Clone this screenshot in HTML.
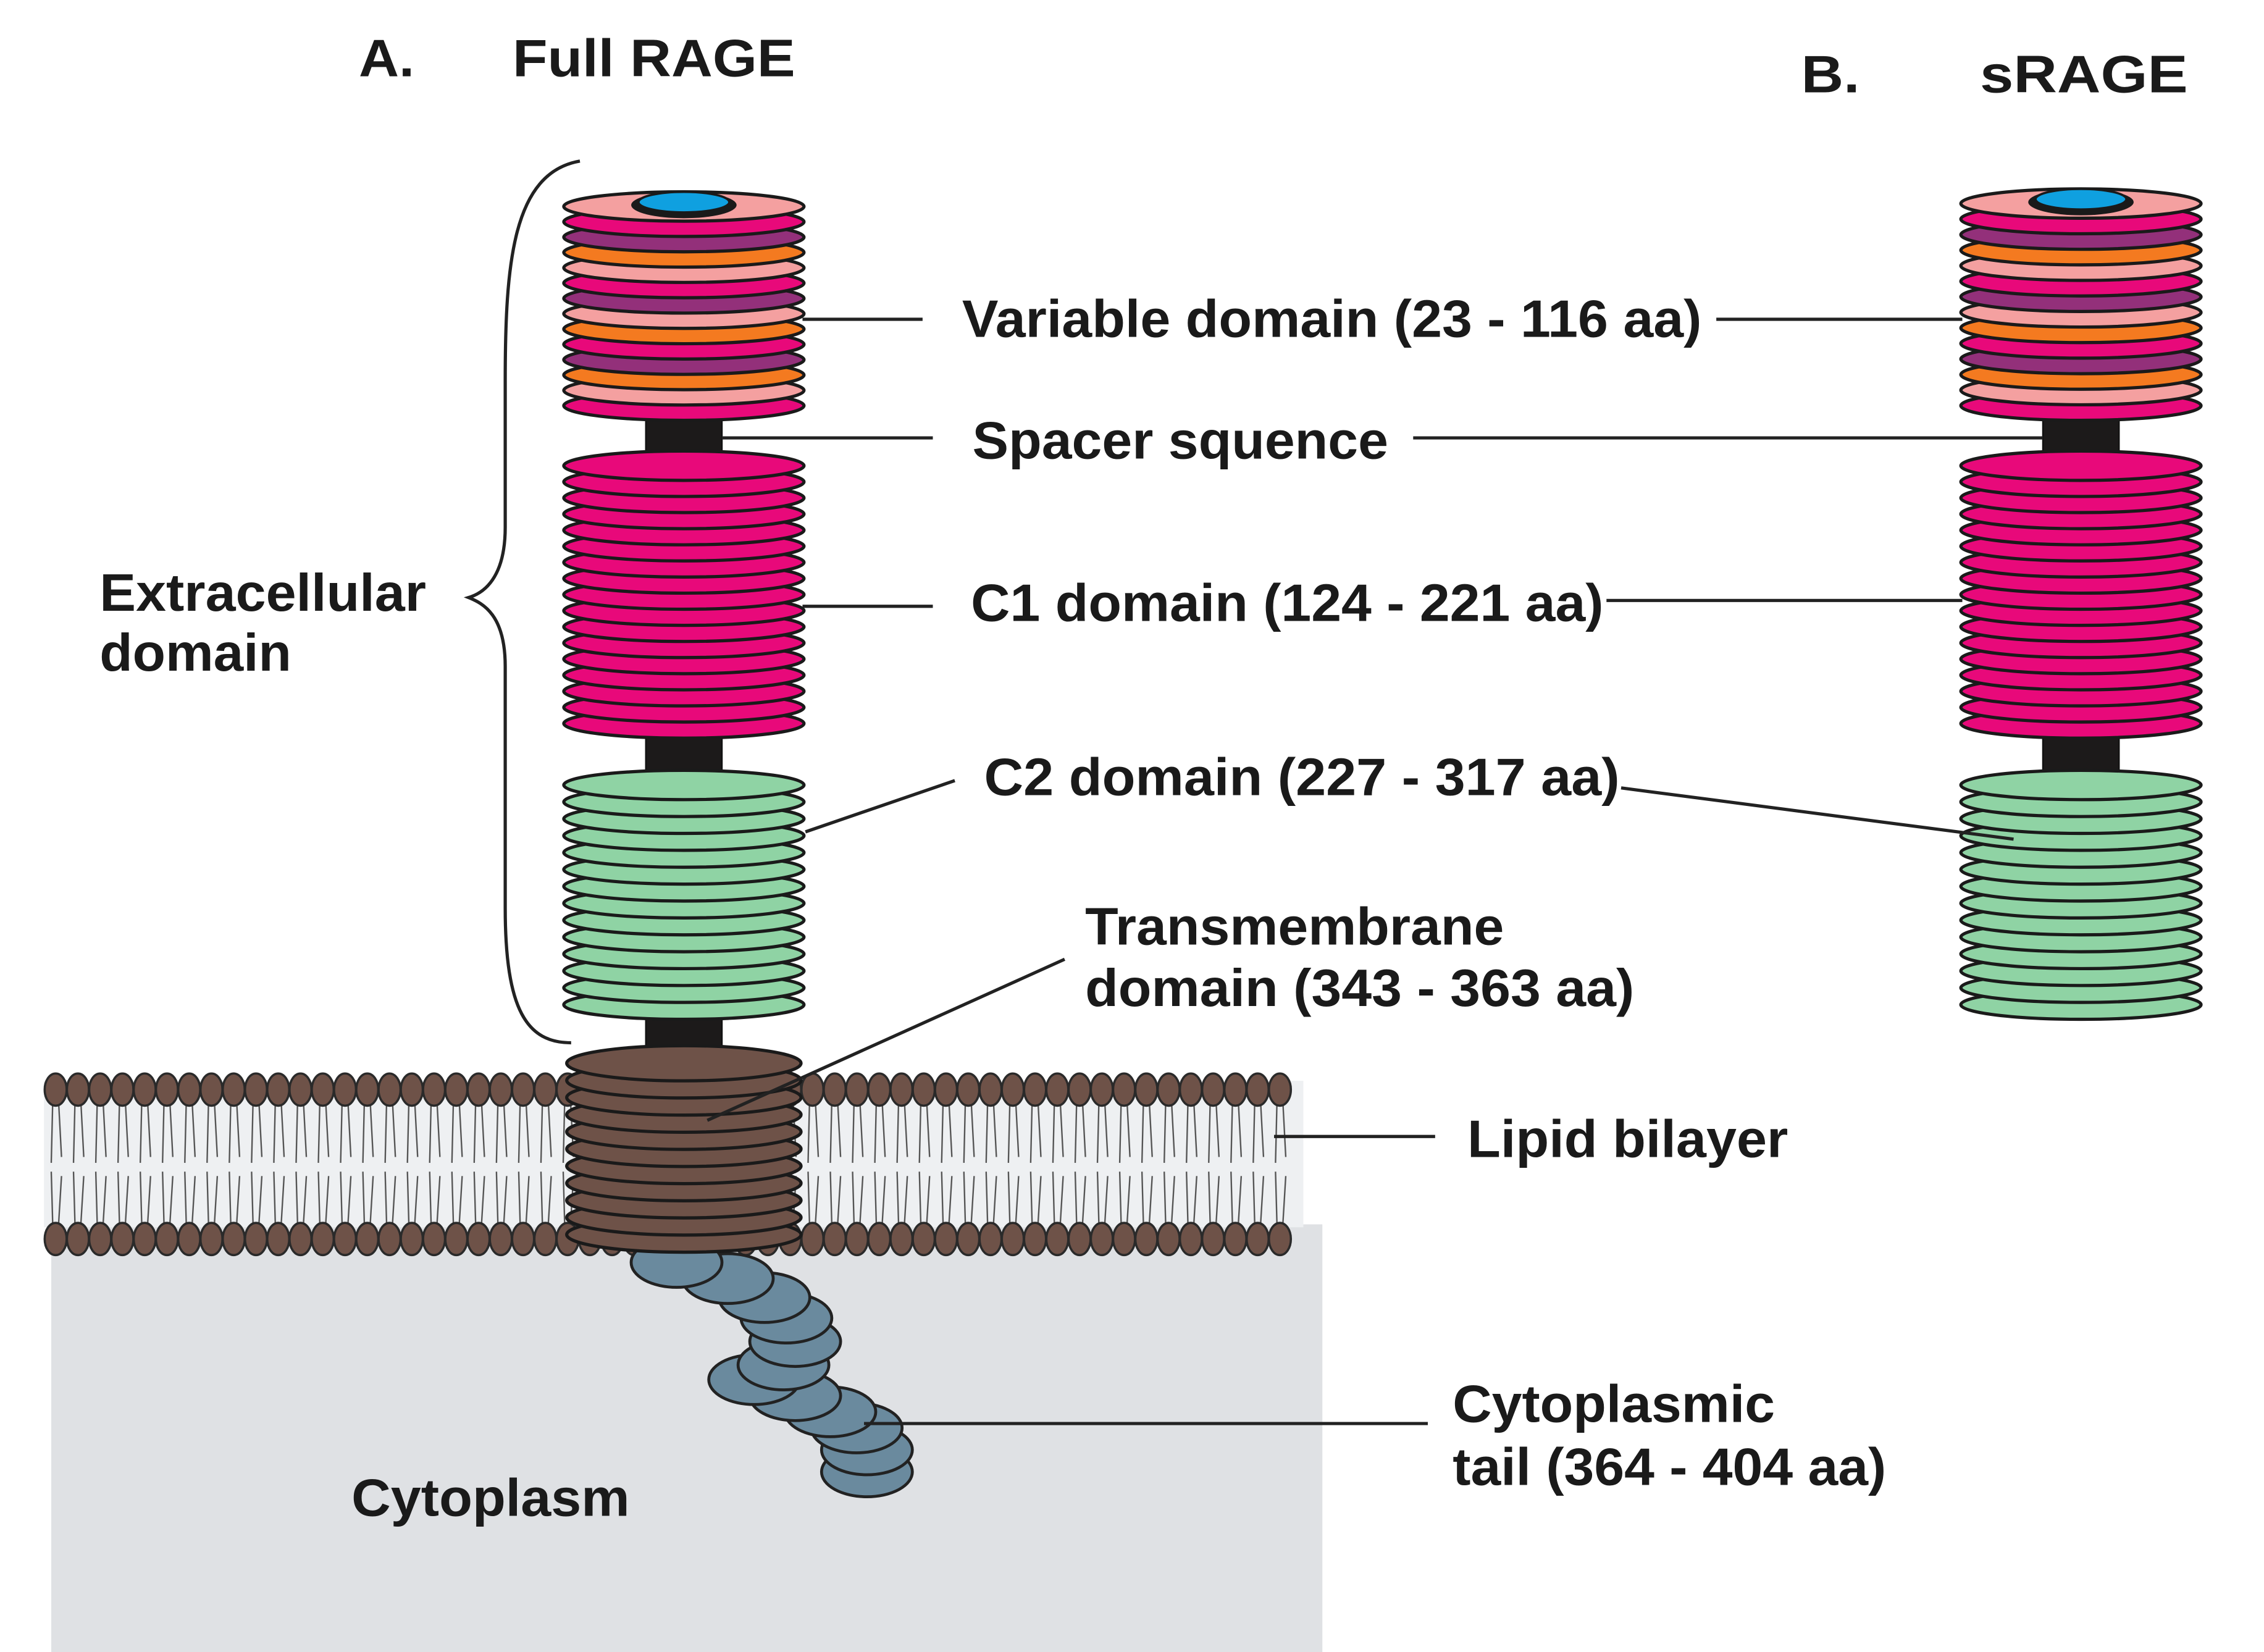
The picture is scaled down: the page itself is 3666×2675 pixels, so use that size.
<!DOCTYPE html>
<html><head><meta charset="utf-8"><style>
html,body{margin:0;padding:0;background:#fff;}
svg{display:block;}
text{font-family:"Liberation Sans",Arial,sans-serif;font-weight:bold;fill:#1a1a1a;font-size:36px;}
</style></head><body>
<svg id="s" width="3666" height="2675" viewBox="0 0 1546 1128" preserveAspectRatio="none" xmlns="http://www.w3.org/2000/svg">
<rect x="35" y="836" width="868" height="292" fill="#dfe1e4"/>
<rect x="30" y="738" width="860" height="100" fill="#eef0f2"/>
<g id="mem"></g>
<g id="stacks"></g>
<g stroke="#222" stroke-width="2.2" fill="none">
<path d="M396,110 C350,118 345,180 345,260 L345,360 C345,395 330,405 320,408 C330,412 345,420 345,455 L345,620 C345,690 360,712 390,712"/>
<line x1="548" y1="218" x2="630" y2="218"/><line x1="1172" y1="218" x2="1340" y2="218"/>
<line x1="493" y1="299" x2="637" y2="299"/><line x1="965" y1="299" x2="1395" y2="299"/>
<line x1="548" y1="414" x2="637" y2="414"/><line x1="1097" y1="410" x2="1340" y2="410"/>
<line x1="550" y1="568" x2="652" y2="533"/><line x1="1107" y1="538" x2="1375" y2="573"/>
<line x1="727" y1="655" x2="483" y2="765"/>
<line x1="870" y1="776" x2="980" y2="776"/>
<line x1="590" y1="972" x2="975" y2="972"/>
</g>
<text x="245" y="52" textLength="38" lengthAdjust="spacingAndGlyphs">A.</text>
<text x="350" y="52" textLength="193" lengthAdjust="spacingAndGlyphs">Full RAGE</text>
<text x="1230" y="63" textLength="40" lengthAdjust="spacingAndGlyphs">B.</text>
<text x="1352" y="63" textLength="142" lengthAdjust="spacingAndGlyphs">sRAGE</text>
<text x="657" y="230" textLength="505" lengthAdjust="spacingAndGlyphs">Variable domain (23 - 116 aa)</text>
<text x="664" y="313" textLength="284" lengthAdjust="spacingAndGlyphs">Spacer squence</text>
<text x="663" y="424" textLength="432" lengthAdjust="spacingAndGlyphs">C1 domain (124 - 221 aa)</text>
<text x="672" y="543" textLength="434" lengthAdjust="spacingAndGlyphs">C2 domain (227 - 317 aa)</text>
<text x="741" y="645" textLength="286" lengthAdjust="spacingAndGlyphs">Transmembrane</text>
<text x="741" y="687" textLength="375" lengthAdjust="spacingAndGlyphs">domain (343 - 363 aa)</text>
<text x="1002" y="790" textLength="219" lengthAdjust="spacingAndGlyphs">Lipid bilayer</text>
<text x="992" y="971" textLength="220" lengthAdjust="spacingAndGlyphs">Cytoplasmic</text>
<text x="992" y="1014" textLength="296" lengthAdjust="spacingAndGlyphs">tail (364 - 404 aa)</text>
<text x="68" y="417" textLength="223" lengthAdjust="spacingAndGlyphs">Extracellular</text>
<text x="68" y="458" textLength="131" lengthAdjust="spacingAndGlyphs">domain</text>
<text x="240" y="1035" textLength="190" lengthAdjust="spacingAndGlyphs">Cytoplasm</text>
</svg>
<script>
(function(){
var NS="http://www.w3.org/2000/svg";
function el(p,t,a){var e=document.createElementNS(NS,t);for(var k in a)e.setAttribute(k,a[k]);p.appendChild(e);return e;}
var mem=document.getElementById("mem"),st=document.getElementById("stacks");
for(var x=38;x<=886;x+=15.2){
  el(mem,"path",{d:"M"+(x-2)+",752 L"+(x-3)+",794 M"+(x+2)+",752 L"+(x+4)+",790",stroke:"#555","stroke-width":"1",fill:"none"});
  el(mem,"path",{d:"M"+(x-2)+",836 L"+(x-3)+",800 M"+(x+2)+",836 L"+(x+4)+",803",stroke:"#555","stroke-width":"1",fill:"none"});
}
for(var x=38;x<=886;x+=15.2){
  el(mem,"ellipse",{cx:x,cy:744,rx:7.5,ry:11,fill:"#6e5248",stroke:"#2a2a2a","stroke-width":"1.5"});
  el(mem,"ellipse",{cx:x,cy:846,rx:7.5,ry:11,fill:"#6e5248",stroke:"#2a2a2a","stroke-width":"1.5"});
}
var tail=[[592,1005],[592,990],[585,975],[567,964],[543,953],[515,942],[535,932],[543,916],[537,900],[522,886],[497,873],[462,862]];
tail.forEach(function(p){el(st,"ellipse",{cx:p[0],cy:p[1],rx:31,ry:17,fill:"#6a8a9e",stroke:"#222","stroke-width":"2"});});
function stack(cx,y0,y1,colors,rx,ry){
  var n=colors.length,step=(y1-y0)/(n-1);
  for(var i=n-1;i>=0;i--){
    el(st,"ellipse",{cx:cx,cy:y0+i*step,rx:rx,ry:ry,fill:colors[i],stroke:"#1a1a1a","stroke-width":"2.2"});
  }
}
function rect(cx,y0,y1){el(st,"rect",{x:cx-26,y:y0,width:52,height:y1-y0,fill:"#1c1a1a",stroke:"#111","stroke-width":"1"});}
var P="#f4a0a0",M="#e8097a",U="#93307a",O="#f47a20",G="#8fd3a4",B="#6e5248";
var vA=[P,M,U,O,P,M,U,P,O,M,U,O,P,M];
function rep(c,n){var a=[];for(var i=0;i<n;i++)a.push(c);return a;}
function column(cx,vy0,vy1,c1y0,c1y1,c2y0,c2y1,tm){
  rect(cx,vy1,c1y0+10); rect(cx,c1y1,c2y0+10);
  if(tm){rect(cx,c2y1,tm[0]+10); stack(cx,tm[0],tm[1],rep(B,11),80,12);}
  stack(cx,c2y0,c2y1,rep(G,14),82,10);
  stack(cx,c1y0,c1y1,rep(M,17),82,10);
  stack(cx,vy0,vy1,vA,82,10);
  el(st,"ellipse",{cx:cx,cy:vy0-1,rx:36,ry:9,fill:"#1a1a1a"});
  el(st,"ellipse",{cx:cx,cy:vy0-3,rx:31,ry:7,fill:"#0fa0e0",stroke:"#1a1a1a","stroke-width":"1.5"});
}
column(467,141,277,318,494,536,686,[726,843]);
column(1421,139,277,318,494,536,686,null);
})();
</script>
</body></html>
